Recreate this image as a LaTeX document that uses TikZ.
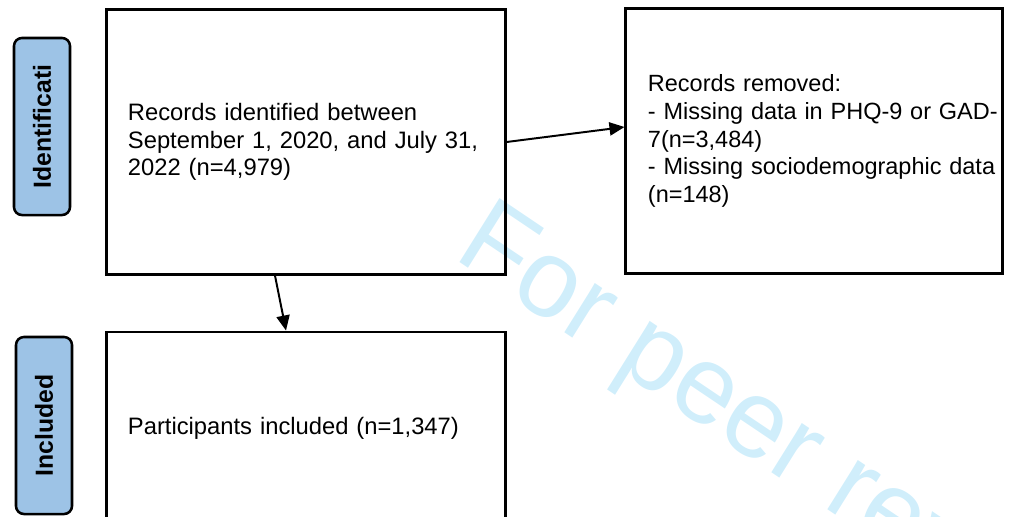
\documentclass[tikz,border=0pt]{standalone}
\usepackage{fontspec}
\setmainfont{Liberation Sans}
\usepackage{xcolor}
\usepackage{tikz}
\usetikzlibrary{positioning,arrows.meta}
\definecolor{stageblue}{HTML}{9DC3E6}
\definecolor{wmcyan}{HTML}{D0EEFB}

\begin{document}
\begin{tikzpicture}[x=0.025cm,y=-0.025cm,font=\fontsize{16.9}{19.4}\selectfont,
  box/.style={draw,line width=2.1pt,align=left,inner xsep=0.525cm,minimum height=6.6cm},
  stage/.style={draw,line width=1.8pt,rounded corners=0.2cm,fill=stageblue,rotate=90,
    font=\fontsize{17.6}{20}\selectfont\bfseries,minimum width=4.425cm,minimum height=1.4cm},
  arr/.style={-{Triangle[length=3.75mm,width=3.3mm]},line width=1.4pt}]
  \path[use as bounding box,clip] (0,0) rectangle (1016,516);
  \node[text=wmcyan,font=\fontsize{78}{90}\selectfont,anchor=base west,inner sep=0pt,
    cm={0.829,-0.559,0.530,0.848,(0,0)}] (wm) at (452,257) {For peer review only};
  \node[box,text width=8.9cm] (recs) at (306,142) {Records identified between\\ September 1, 2020, and July 31,\\ 2022 (n=4,979)};
  \node[box,text width=8.3cm,inner xsep=0.55cm,font=\fontsize{16.7}{19.6}\selectfont] (removed) at (814,141) {Records removed:\\ \mbox{- Missing data in PHQ-9 or GAD-}\\ 7(n=3,484)\\ \mbox{- Missing sociodemographic data}\\ (n=148)};
  \node[box,text width=8.9cm,minimum height=4.8cm] (incl) at (306,428) {Participants included (n=1,347)};
  \node[stage] (sident) at (42,126.5) {Identificati};
  \node[stage] (sincl) at (44,425.5) {Included};
  \draw[arr] (recs.east) -- ([yshift=0.35cm]removed.west);
  \draw[arr] ([xshift=-0.775cm]recs.south) -- ([xshift=-0.5cm]incl.north);
\end{tikzpicture}
\end{document}
